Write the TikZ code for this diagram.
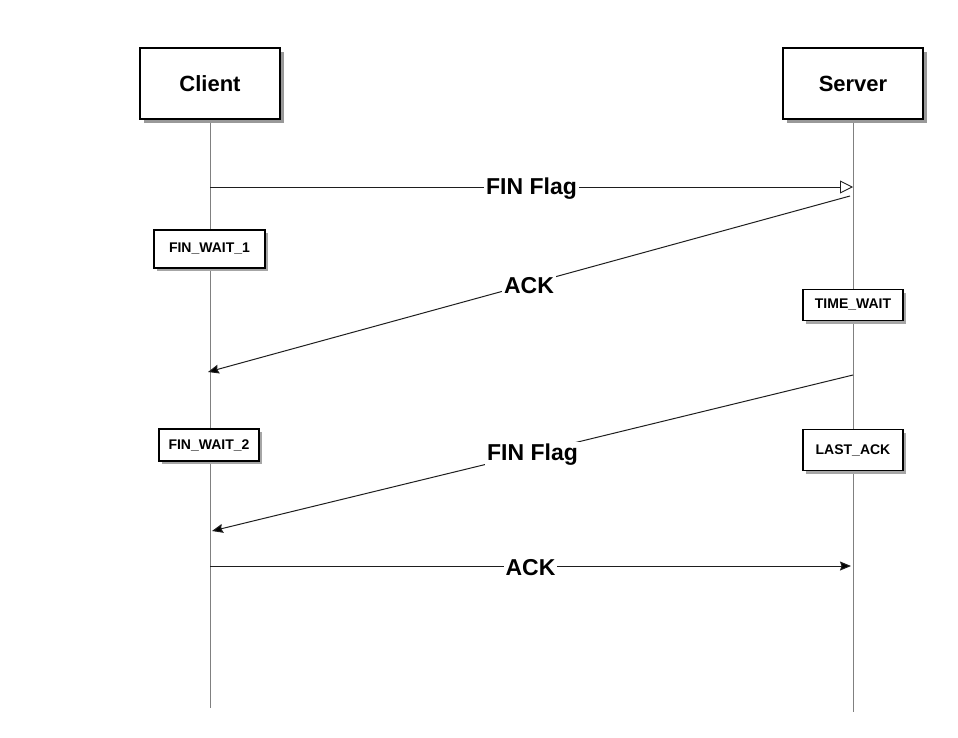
\documentclass[tikz,border=0pt]{standalone}
\usepackage{fontspec}
\setmainfont{Liberation Sans}
\usepackage{xcolor}
\definecolor{lifegray}{RGB}{128,128,128}
\definecolor{msgdark}{RGB}{30,30,30}
\usetikzlibrary{arrows.meta, shadows, backgrounds}

\begin{document}
\begin{tikzpicture}[x=1pt, y=-1pt,
	actor/.style={rectangle, draw=black, line width=1.5pt, fill=white, minimum width=140pt,
	              minimum height=71pt, font=\fontsize{22}{26}\selectfont\bfseries,
	              drop shadow={shadow xshift=4pt, shadow yshift=-4pt, fill=black!40, opacity=1}},
	statebox/.style={rectangle, draw=black, line width=1.3pt, fill=white, minimum width=100pt,
	              font=\fontsize{14}{16}\selectfont\bfseries, inner sep=2pt,
	              drop shadow={shadow xshift=3pt, shadow yshift=-3pt, fill=black!35, opacity=1}},
	life/.style={draw=lifegray, line width=1pt},
	msg/.style={draw=msgdark, line width=1pt, -{Stealth[length=11pt, width=9pt, inset=1.5pt, fill=black]}},
	openmsg/.style={draw=msgdark, line width=1pt, -{Triangle[open, length=13pt, width=13pt, line width=0.9pt]}},
	msglabel/.style={fill=white, inner sep=2pt, text=black, yshift=-2pt, font=\fontsize{23}{26}\selectfont\bfseries}
	]
\useasboundingbox (0,0) rectangle (958,737);

\node[actor] (client) at (210,83.5) {Client};
\node[actor] (server) at (853,83.5) {Server};

\coordinate (cend) at (210,708);
\coordinate (send) at (853,712);
\begin{scope}[on background layer]
\draw[life] (client.south) -- (cend);
\draw[life] (server.south) -- (send);
\end{scope}

\node[statebox, minimum width=111pt, minimum height=38pt] (fw1) at (209.5,249) {FIN\_WAIT\_1};
\node[statebox, minimum height=31pt] (tw) at (853,305) {TIME\_WAIT};
\node[statebox, minimum height=32pt] (fw2) at (209,445) {FIN\_WAIT\_2};
\node[statebox, minimum height=41pt] (la) at (853,450) {LAST\_ACK};

\coordinate (c1) at (210,187);
\coordinate (s1) at (853,187);
\coordinate (s2) at (850,196);
\coordinate (c2) at (208,372);
\coordinate (s3) at (853,375);
\coordinate (c3) at (212,531);
\coordinate (c4) at (210,566);
\coordinate (s4) at (851,566);

\draw[openmsg] (c1) -- node[msglabel] {FIN Flag} (s1);
\draw[msg] (s2) -- node[msglabel] {ACK} (c2);
\draw[msg] (s3) -- node[msglabel] {FIN Flag} (c3);
\draw[msg] (c4) -- node[msglabel] {ACK} (s4);
\end{tikzpicture}
\end{document}
